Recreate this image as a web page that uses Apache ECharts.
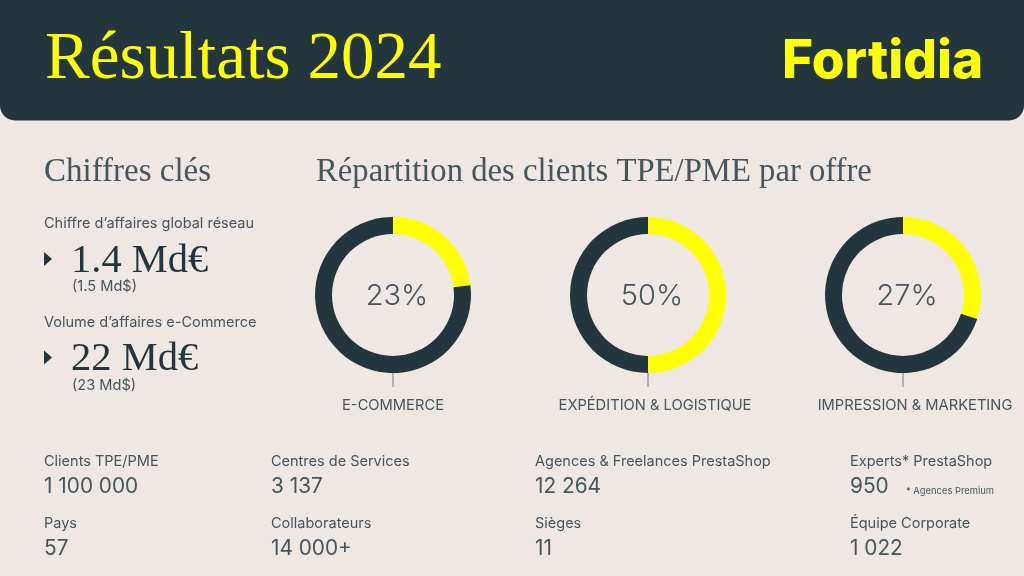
<!DOCTYPE html>
<html><head><meta charset="utf-8">
<style>html,body{margin:0;padding:0;background:#efe7e4}#c{width:1024px;height:576px}</style>
<script src="https://cdn.jsdelivr.net/npm/echarts@6/dist/echarts.min.js"></script>
</head><body><div id="c"></div>
<script>
const offers = ['E-COMMERCE', 'EXPÉDITION & LOGISTIQUE', 'IMPRESSION & MARKETING'];
const shareLabels = ['23%', '50%', '27%'];
const arcShares = [23, 50, 30];
const title = 'Résultats 2024';
const logo = 'Fortidia';
const keyLabels = ['Chiffre d’affaires global réseau', 'Volume d’affaires e-Commerce'];
const keyValues = ['1.4 Md€', '22 Md€'];
const keySubs = ['(1.5 Md$)', '(23 Md$)'];
const statLabels = ['Clients TPE/PME', 'Centres de Services', 'Agences & Freelances PrestaShop', 'Experts* PrestaShop', 'Pays', 'Collaborateurs', 'Sièges', 'Équipe Corporate'];
const statValues = ['1 100 000', '3 137', '12 264', '950', '57', '14 000+', '11', '1 022'];

const DARK = '#24363d', YEL = '#ffff00', BG = '#efe7e4', TXT = '#46565c';
const SERIF = '"Liberation Serif", serif', SANS = 'Inter, "Liberation Sans", sans-serif';
const cx = [393, 648, 903], cy = 295, labelX = [393, 655, 915];
const statX = [44, 271, 535, 850], statY = [462, 524];

function txt(x, y, text, size, color, font, extra) {
  return { type: 'text', x, y, silent: true,
    style: { text, fill: color, font: `${(extra && extra.weight) || 400} ${size}px ${font}`,
      textAlign: (extra && extra.align) || 'left', textVerticalAlign: 'middle' } };
}
const g = [
  { type: 'rect', shape: { x: 0, y: -20, width: 1024, height: 140.5, r: 15 }, style: { fill: DARK }, silent: true },
  txt(45, 60, title, 67, YEL, SERIF),
  txt(782, 62, logo, 53, YEL, SANS, { weight: 800 }),
  txt(44, 172, 'Chiffres clés', 33, TXT, SERIF),
  txt(316, 172, 'Répartition des clients TPE/PME par offre', 32.7, TXT, SERIF)
];
keyLabels.forEach((t, i) => {
  const y = [224, 323][i], v = [261, 359.5][i], s = [287, 386][i];
  g.push(txt(44, y, t, 14.5, TXT, SANS));
  g.push({ type: 'polygon', shape: { points: [[44, v - 9], [52, v - 2], [44, v + 5]] }, style: { fill: DARK }, silent: true });
  g.push(txt(71, v, keyValues[i], 40.5, DARK, SERIF));
  g.push(txt(72, s, keySubs[i], 14.6, TXT, SANS));
});
offers.forEach((t, i) => {
  g.push({ type: 'line', shape: { x1: cx[i], y1: 372, x2: cx[i], y2: 387 }, style: { stroke: '#6f797c', lineWidth: 1 }, silent: true });
  g.push(txt(labelX[i], 406, t, 14.7, TXT, SANS, { align: 'center' }));
  g.push(txt(cx[i] + 4, 296, shareLabels[i], 29, TXT, SANS, { align: 'center', weight: 300 }));
});
statLabels.forEach((t, i) => {
  const x = statX[i % 4], r = i < 4 ? 0 : 1;
  g.push(txt(x, statY[r], t, 14.5, TXT, SANS));
  g.push(txt(x, statY[r] + 25, statValues[i], 20.8, TXT, SANS));
});
g.push(txt(906, 491, '* Agences Premium', 9.4, TXT, SANS));

const chart = echarts.init(document.getElementById('c'), null, { renderer: 'canvas' });
chart.setOption({
  backgroundColor: BG,
  animation: false,
  graphic: { elements: g },
  series: arcShares.map((v, i) => ({
    type: 'pie', silent: true, center: [cx[i], cy], radius: [61, 78], startAngle: 90, clockwise: true,
    label: { show: false }, labelLine: { show: false },
    data: [{ name: offers[i], value: v, itemStyle: { color: YEL } },
           { name: 'Autres', value: 100 - v, itemStyle: { color: DARK } }]
  }))
});
</script></body></html>
